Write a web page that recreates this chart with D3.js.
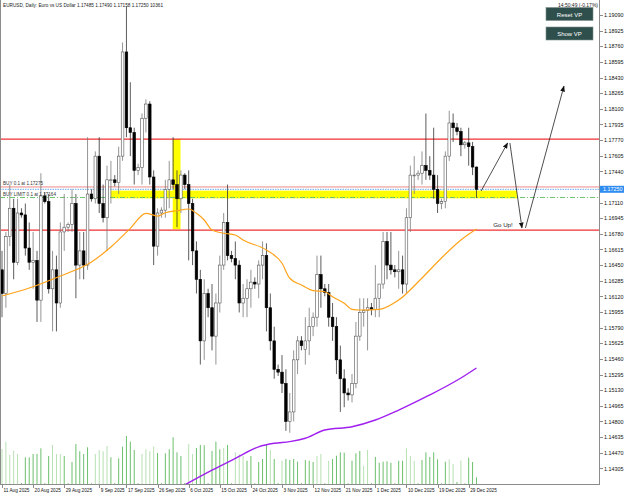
<!DOCTYPE html>
<html>
<head>
<meta charset="utf-8">
<script src="https://cdn.jsdelivr.net/npm/d3@7"></script>
<style>
  html, body { margin: 0; padding: 0; background: #fff; }
  svg { display: block; font-family: "Liberation Sans", Arial, sans-serif; }
  .axis text { font-size: 5.4px; fill: #111; }
  .axis path, .axis line { stroke: #8c8c8c; shape-rendering: crispEdges; }
</style>
</head>
<body>
<div id="chart"></div>
<script>
(function() {
    'use strict';

    // EURUSD daily, 11 Aug - 31 Dec 2025 (broker also prints a short Sunday bar)
    var dates = [
        '08-11','08-12','08-13','08-14','08-15','08-17',
        '08-18','08-19','08-20','08-21','08-22','08-24',
        '08-25','08-26','08-27','08-28','08-29','08-31',
        '09-01','09-02','09-03','09-04','09-05','09-07',
        '09-08','09-09','09-10','09-11','09-12','09-14',
        '09-15','09-16','09-17','09-18','09-19','09-21',
        '09-22','09-23','09-24','09-25','09-26','09-28',
        '09-29','09-30','10-01','10-02','10-03','10-05',
        '10-06','10-07','10-08','10-09','10-10','10-12',
        '10-13','10-14','10-15','10-16','10-17','10-19',
        '10-20','10-21','10-22','10-23','10-24','10-26',
        '10-27','10-28','10-29','10-30','10-31','11-02',
        '11-03','11-04','11-05','11-06','11-07','11-09',
        '11-10','11-11','11-12','11-13','11-14','11-16',
        '11-17','11-18','11-19','11-20','11-21','11-23',
        '11-24','11-25','11-26','11-27','11-28','11-30',
        '12-01','12-02','12-03','12-04','12-05','12-07',
        '12-08','12-09','12-10','12-11','12-12','12-14',
        '12-15','12-16','12-17','12-18','12-19','12-21',
        '12-22','12-23','12-24','12-25','12-26','12-28',
        '12-29','12-30','12-31'
    ];

    var opens = [
        1.1640, 1.1615, 1.1675, 1.1705, 1.1648, 1.1700,
        1.1698, 1.1663, 1.1648, 1.1650, 1.1608, 1.1718,
        1.1712, 1.1620, 1.1640, 1.1605, 1.1680, 1.1685,
        1.1688, 1.1710, 1.1645, 1.1660, 1.1645, 1.1720,
        1.1715, 1.1760, 1.1710, 1.1695, 1.1735, 1.1735,
        1.1732, 1.1760, 1.1870, 1.1790, 1.1785, 1.1745,
        1.1748, 1.1800, 1.1815, 1.1738, 1.1665, 1.1700,
        1.1703, 1.1725, 1.1735, 1.1730, 1.1715, 1.1740,
        1.1730, 1.1710, 1.1660, 1.1630, 1.1565, 1.1615,
        1.1600, 1.1570, 1.1605, 1.1645, 1.1690, 1.1655,
        1.1652, 1.1645, 1.1605, 1.1610, 1.1620, 1.1627,
        1.1625, 1.1645, 1.1655, 1.1600, 1.1565, 1.1535,
        1.1532, 1.1520, 1.1480, 1.1490, 1.1545, 1.1565,
        1.1556, 1.1565, 1.1580, 1.1590, 1.1635, 1.1620,
        1.1616, 1.1590, 1.1580, 1.1545, 1.1525, 1.1510,
        1.1508, 1.1520, 1.1570, 1.1595, 1.1597, 1.1600,
        1.1598, 1.1610, 1.1625, 1.1670, 1.1645, 1.1640,
        1.1638, 1.1640, 1.1625, 1.1695, 1.1740, 1.1740,
        1.1742, 1.1750, 1.1745, 1.1740, 1.1725, 1.1710,
        1.1712, 1.1760, 1.1795, 1.1790, 1.1786, 1.1772,
        1.1774, 1.1770, 1.17485
    ];
    var highs = [
        1.1660, 1.1680, 1.1730, 1.1715, 1.1715, 1.1705,
        1.1710, 1.1690, 1.1680, 1.1660, 1.1742, 1.1722,
        1.1720, 1.1660, 1.1655, 1.1690, 1.1720, 1.1690,
        1.1725, 1.1720, 1.1680, 1.1680, 1.1780, 1.1725,
        1.1765, 1.1780, 1.1730, 1.1750, 1.1755, 1.1740,
        1.1770, 1.1880, 1.1918, 1.1838, 1.1790, 1.1752,
        1.1805, 1.1820, 1.1818, 1.1745, 1.1705, 1.1706,
        1.1735, 1.1755, 1.1780, 1.1745, 1.1745, 1.1742,
        1.1745, 1.1715, 1.1670, 1.1640, 1.1630, 1.1620,
        1.1625, 1.1615, 1.1655, 1.1700, 1.1730, 1.1660,
        1.1670, 1.1650, 1.1625, 1.1630, 1.1640, 1.1632,
        1.1650, 1.1670, 1.1668, 1.1615, 1.1580, 1.1540,
        1.1550, 1.1535, 1.1510, 1.1555, 1.1570, 1.1570,
        1.1590, 1.1600, 1.1595, 1.1655, 1.1655, 1.1625,
        1.1625, 1.1605, 1.1590, 1.1560, 1.1535, 1.1515,
        1.1530, 1.1585, 1.1610, 1.1610, 1.1610, 1.1605,
        1.1645, 1.1625, 1.1680, 1.1680, 1.1680, 1.1645,
        1.1660, 1.1655, 1.1705, 1.1750, 1.1760, 1.1745,
        1.1765, 1.1805, 1.1760, 1.1790, 1.1740, 1.1715,
        1.1765, 1.1808, 1.1805, 1.1795, 1.1790, 1.1776,
        1.1790, 1.1775, 1.17490
    ];
    var lows = [
        1.1590, 1.1600, 1.1665, 1.1630, 1.1645, 1.1695,
        1.1655, 1.1640, 1.1620, 1.1585, 1.1585, 1.1710,
        1.1615, 1.1575, 1.1575, 1.1600, 1.1660, 1.1680,
        1.1680, 1.1610, 1.1630, 1.1630, 1.1640, 1.1712,
        1.1710, 1.1700, 1.1690, 1.1660, 1.1710, 1.1728,
        1.1720, 1.1755, 1.1780, 1.1760, 1.1730, 1.1740,
        1.1730, 1.1785, 1.1730, 1.1645, 1.1655, 1.1695,
        1.1695, 1.1705, 1.1725, 1.1685, 1.1700, 1.1725,
        1.1650, 1.1645, 1.1615, 1.1540, 1.1545, 1.1590,
        1.1555, 1.1540, 1.1595, 1.1640, 1.1650, 1.1648,
        1.1630, 1.1595, 1.1590, 1.1590, 1.1600, 1.1620,
        1.1610, 1.1630, 1.1575, 1.1555, 1.1525, 1.1528,
        1.1510, 1.1470, 1.1468, 1.1480, 1.1530, 1.1555,
        1.1540, 1.1550, 1.1570, 1.1580, 1.1600, 1.1612,
        1.1580, 1.1565, 1.1530, 1.1490, 1.1495, 1.1502,
        1.1500, 1.1515, 1.1565, 1.1580, 1.1555, 1.1592,
        1.1590, 1.1590, 1.1620, 1.1630, 1.1635, 1.1632,
        1.1620, 1.1615, 1.1615, 1.1680, 1.1720, 1.1735,
        1.1730, 1.1735, 1.1735, 1.1715, 1.1700, 1.1704,
        1.1705, 1.1755, 1.1775, 1.1782, 1.1760, 1.1768,
        1.1750, 1.1740, 1.17158
    ];
    var closes = [
        1.1615, 1.1675, 1.1705, 1.1648, 1.1700, 1.1698,
        1.1663, 1.1648, 1.1650, 1.1608, 1.1718, 1.1712,
        1.1620, 1.1640, 1.1605, 1.1680, 1.1685, 1.1688,
        1.1710, 1.1645, 1.1660, 1.1645, 1.1720, 1.1715,
        1.1760, 1.1710, 1.1695, 1.1735, 1.1735, 1.1732,
        1.1760, 1.1870, 1.1790, 1.1785, 1.1745, 1.1748,
        1.1800, 1.1815, 1.1738, 1.1665, 1.1700, 1.1703,
        1.1725, 1.1735, 1.1730, 1.1715, 1.1740, 1.1730,
        1.1710, 1.1660, 1.1630, 1.1565, 1.1615, 1.1600,
        1.1570, 1.1605, 1.1645, 1.1690, 1.1655, 1.1652,
        1.1645, 1.1605, 1.1610, 1.1620, 1.1627, 1.1625,
        1.1645, 1.1655, 1.1600, 1.1565, 1.1535, 1.1532,
        1.1520, 1.1480, 1.1490, 1.1545, 1.1565, 1.1560,
        1.1565, 1.1580, 1.1590, 1.1635, 1.1620, 1.1616,
        1.1590, 1.1580, 1.1545, 1.1525, 1.1510, 1.1508,
        1.1520, 1.1570, 1.1595, 1.1597, 1.1600, 1.1598,
        1.1610, 1.1625, 1.1670, 1.1645, 1.1640, 1.1638,
        1.1640, 1.1625, 1.1695, 1.1740, 1.1740, 1.1742,
        1.1750, 1.1745, 1.1740, 1.1725, 1.1710, 1.1712,
        1.1760, 1.1795, 1.1790, 1.1786, 1.1772, 1.1774,
        1.1770, 1.17485, 1.17250
    ];

    // tick volume, and which of the two greens the bar is painted in
    var volumes = [
        54300, 65600, 45000, 51600, 46500, 1500,
        41400, 41200, 46500, 46800, 55300, 1200,
        43400, 60500, 46500, 46300, 43400, 1300,
        34100, 62000, 50700, 46500, 56900, 1100,
        46500, 52700, 50700, 58900, 41400, 1400,
        39800, 57800, 74400, 65600, 52700, 1200,
        46500, 53800, 50700, 57800, 48100, 1300,
        47600, 53800, 72400, 49100, 43400, 1500,
        62000, 46500, 55800, 60500, 60000, 1400,
        51200, 65600, 53800, 55800, 60500, 1200,
        49100, 46500, 43400, 36100, 43400, 1100,
        34100, 38800, 62000, 52700, 38800, 1300,
        36100, 38800, 37200, 38800, 34600, 1200,
        37200, 36100, 34100, 43400, 46500, 1100,
        36100, 38800, 43900, 49100, 48500, 1000,
        36100, 47600, 51200, 28400, 52700, 1200,
        41900, 33000, 34600, 35200, 33000, 1100,
        36100, 36100, 55300, 43400, 36100, 1000,
        37200, 49100, 41900, 49100, 38300, 900,
        34600, 38300, 31000, 3100, 36100, 900,
        40800, 34100, 10361
    ];
    var volTone = (
        'lllllg' + 'gggggg' + 'glllgg' + 'gggggg' + 'llllgg' +
        'gggggg' + 'llllgg' + 'gggggg' + 'llgggg' + 'ggglgg' +
        'lllggg' + 'ggglgg' + 'lggggg' + 'gggllg' + 'lggggg' +
        'gggllg' + 'gggggg' + 'ggl' + 'llg' + 'gggggg' + 'gllglg' + 'ggg'
    ).split('');

    // moving averages (bar index -> price)
    var maFastIdx = [0, 7, 15, 23, 28, 33, 37, 40, 42, 45, 48, 50, 52, 54, 57, 60, 62,
                     68, 72, 74, 77, 80, 83, 85, 88, 90, 92, 97, 102, 108, 113, 118, 122];
    var maFastVal = [1.16124, 1.16208, 1.16335, 1.16483, 1.16641, 1.16838, 1.16997, 1.16968,
                     1.17003, 1.17024, 1.17042, 1.16997, 1.16926, 1.16820, 1.16786, 1.16768,
                     1.16715, 1.16609, 1.16469, 1.16311, 1.16240, 1.16180, 1.16169, 1.16116,
                     1.16047, 1.15983, 1.15976, 1.15983, 1.16081, 1.16314, 1.16525, 1.16715, 1.16831];
    var maSlowIdx = [47, 54, 60, 66, 70, 74, 78, 83, 90, 96, 102, 110, 118, 122];
    var maSlowVal = [1.14130, 1.14285, 1.14410, 1.14532, 1.14569, 1.14586, 1.14622, 1.14709,
                     1.14744, 1.14815, 1.14920, 1.15079, 1.15258, 1.15364];

    var priceTicks = ['1.19090','1.18925','1.18760','1.18595','1.18430','1.18265','1.18100',
        '1.17935','1.17770','1.17605','1.17440','1.17275','1.17110','1.16945','1.16780',
        '1.16615','1.16450','1.16285','1.16120','1.15955','1.15790','1.15625','1.15460',
        '1.15295','1.15130','1.14965','1.14800','1.14635','1.14470','1.14305'];
    var dateTicks = ['08-11','08-20','08-29','09-09','09-17','09-26','10-06','10-15',
        '10-24','11-03','11-12','11-21','12-01','12-10','12-19','12-29'];

    // chart objects
    var redLevels = [1.17780, 1.16820];
    var bidPrice = 1.17250;
    var buyPrice = 1.17275;
    var buyLimitPrice = 1.17164;
    var zoneH = { from: 28.0, to: 132.4, top: 1.17236, bottom: 1.17155 };
    var zoneV = { from: 43.9, to: 45.9, top: 1.17781, bottom: 1.16828 };
    var arrowFrom = [[123.2, 1.17232], [130.6, 1.17739], [134.6, 1.16842]];
    var arrowTo   = [[130.0, 1.17739], [133.7, 1.16842], [144.5, 1.18340]];
    var noteAt = [126.3, 1.16850];

    var W = 625, H = 494;
    var plotR = 599, plotB = 484;

    var year = '2025-';
    var parse = d3.timeParse('%Y-%m-%d');
    var fmt = d3.timeFormat('%-d %b %Y');

    var x = d3.scaleLinear().domain([0, 122]).range([2, 2 + 122 * 3.889]);
    var y = d3.scaleLinear().domain([1.14305, 1.19090]).range([468.3, 15]);
    var yVol = d3.scaleLinear().domain([0, 74400]).range([plotB, plotB - 48]);

    var svg = d3.select('#chart').append('svg')
        .attr('width', W).attr('height', H)
        .attr('viewBox', [0, 0, W, H].join(' '));

    var defs = svg.append('defs');
    defs.append('clipPath').attr('id', 'plot-clip')
        .append('rect').attr('x', 0).attr('y', 0).attr('width', plotR).attr('height', plotB);

    defs.append('marker')
        .attr('id', 'arrow-head')
        .attr('viewBox', '0 0 10 10')
        .attr('refX', 9).attr('refY', 5)
        .attr('markerWidth', 6).attr('markerHeight', 6)
        .attr('markerUnits', 'userSpaceOnUse')
        .attr('orient', 'auto')
        .append('path').attr('d', 'M0,1 L10,5 L0,9 Z').attr('fill', '#111');

    var g = svg.append('g').attr('clip-path', 'url(#plot-clip)');

    // yellow zones sit behind the bars
    [zoneH, zoneV].forEach(function(z) {
        g.append('rect')
            .attr('x', x(z.from))
            .attr('y', y(z.top))
            .attr('width', x(z.to) - x(z.from))
            .attr('height', y(z.bottom) - y(z.top))
            .attr('fill', '#ffff00');
    });

    // horizontal levels
    redLevels.forEach(function(p) {
        g.append('line').attr('x1', 0).attr('x2', plotR)
            .attr('y1', y(p)).attr('y2', y(p))
            .attr('stroke', '#f03030').attr('stroke-width', 1.3);
    });
    g.append('line').attr('x1', 0).attr('x2', plotR)
        .attr('y1', y(buyPrice)).attr('y2', y(buyPrice))
        .attr('stroke', '#f08a8a').attr('stroke-width', 1);
    g.append('line').attr('x1', 0).attr('x2', plotR)
        .attr('y1', y(bidPrice)).attr('y2', y(bidPrice))
        .attr('stroke', '#6aaef0').attr('stroke-width', 1)
        .attr('stroke-dasharray', '1.5,1');
    g.append('line').attr('x1', 0).attr('x2', plotR)
        .attr('y1', y(buyLimitPrice)).attr('y2', y(buyLimitPrice))
        .attr('stroke', '#6cc36c').attr('stroke-width', 1)
        .attr('stroke-dasharray', '5,2,1,2');

    var bars = dates.map(function(d, i) {
        return { i: i, o: opens[i], h: highs[i], l: lows[i], c: closes[i], v: volumes[i], tone: volTone[i] };
    });

    // volumes
    g.selectAll('.vol')
        .data(bars)
        .join('line')
        .attr('class', 'vol')
        .attr('x1', function(d) { return x(d.i); })
        .attr('x2', function(d) { return x(d.i); })
        .attr('y1', plotB)
        .attr('y2', function(d) { return yVol(d.v); })
        .attr('stroke', function(d) { return d.tone === 'g' ? '#6cbf6c' : '#b7e0b2'; })
        .attr('stroke-width', 1);

    // moving averages
    var line = d3.line()
        .x(function(d) { return x(d[0]); })
        .y(function(d) { return y(d[1]); })
        .curve(d3.curveMonotoneX);

    g.append('path')
        .attr('d', line(maSlowIdx.map(function(v, k) { return [v, maSlowVal[k]]; })))
        .attr('fill', 'none').attr('stroke', '#a020f0').attr('stroke-width', 1.4);

    // candles
    var bw = 2.6;
    var candle = g.selectAll('.bar').data(bars).join('g').attr('class', 'bar');
    candle.append('line')
        .attr('x1', function(d) { return x(d.i); })
        .attr('x2', function(d) { return x(d.i); })
        .attr('y1', function(d) { return y(d.h); })
        .attr('y2', function(d) { return y(d.l); })
        .attr('stroke', function(d) { return d.c >= d.o ? '#7a7a7a' : '#333'; })
        .attr('stroke-width', 0.8);
    candle.append('rect')
        .attr('x', function(d) { return x(d.i) - bw / 2; })
        .attr('y', function(d) { return y(Math.max(d.o, d.c)); })
        .attr('width', bw)
        .attr('height', function(d) { return Math.max(0.8, Math.abs(y(d.o) - y(d.c))); })
        .attr('fill', function(d) { return d.c >= d.o ? '#fff' : '#000'; })
        .attr('stroke', function(d) { return d.c >= d.o ? '#555' : '#000'; })
        .attr('stroke-width', 0.6);

    g.append('path')
        .attr('d', line(maFastIdx.map(function(v, k) { return [v, maFastVal[k]]; })))
        .attr('fill', 'none').attr('stroke', '#ffa31a').attr('stroke-width', 1.2);

    // hand drawn arrows
    arrowFrom.forEach(function(a, k) {
        var b = arrowTo[k];
        g.append('line')
            .attr('x1', x(a[0])).attr('y1', y(a[1]))
            .attr('x2', x(b[0])).attr('y2', y(b[1]))
            .attr('stroke', '#222').attr('stroke-width', 0.8)
            .attr('marker-end', 'url(#arrow-head)');
    });

    g.append('text')
        .attr('x', x(noteAt[0])).attr('y', y(noteAt[1]))
        .attr('font-size', 6.2).attr('fill', '#222')
        .text('Go Up!');

    // order labels on the left
    g.append('text').attr('x', 3).attr('y', y(buyPrice) - 1.5)
        .attr('font-size', 4.6).attr('fill', '#333')
        .text('BUY 0.1 at ' + d3.format('.5f')(buyPrice));
    g.append('text').attr('x', 3).attr('y', y(buyLimitPrice) - 1.5)
        .attr('font-size', 4.6).attr('fill', '#333')
        .text('BUY LIMIT 0.1 at ' + d3.format('.5f')(buyLimitPrice));

    // frame + axes
    svg.append('line').attr('x1', 0.5).attr('x2', 0.5).attr('y1', 0).attr('y2', plotB)
        .attr('stroke', '#8c8c8c');

    var yAxis = d3.axisRight(y)
        .tickValues(priceTicks.map(Number))
        .tickFormat(d3.format('.5f'))
        .tickSize(3).tickPadding(1.5);
    var ya = svg.append('g').attr('class', 'axis')
        .attr('transform', 'translate(' + (plotR + 0.5) + ',0)')
        .call(yAxis);
    ya.select('.domain').attr('d', 'M0,0V' + (plotB + 0.5));
    // the label under the live price tag is covered in the terminal
    ya.selectAll('.tick text')
        .filter(function(d) { return Math.abs(y(d) - y(bidPrice)) < 5; })
        .remove();

    var tickIdx = dateTicks.map(function(d) { return dates.indexOf(d); });
    var xAxis = d3.axisBottom(x)
        .tickValues(tickIdx)
        .tickFormat(function(i) { return fmt(parse(year + dates[i])); })
        .tickSize(3).tickPadding(1);
    var xa = svg.append('g').attr('class', 'axis')
        .attr('transform', 'translate(0,' + (plotB + 0.5) + ')')
        .call(xAxis);
    xa.select('.domain').attr('d', 'M0,0H' + (plotR + 0.5));
    xa.selectAll('text').attr('text-anchor', 'start').attr('dx', 1).style('font-size', '4.7px');

    // last price tag
    svg.append('rect')
        .attr('x', plotR + 1).attr('y', y(bidPrice) - 3.5)
        .attr('width', 24).attr('height', 7)
        .attr('fill', '#2f8cf0');
    svg.append('text')
        .attr('x', plotR + 4).attr('y', y(bidPrice) + 2)
        .attr('font-size', 5.4).attr('fill', '#fff')
        .text(d3.format('.5f')(bidPrice));

    // header
    var last = bars[bars.length - 1];
    svg.append('text').attr('x', 3).attr('y', 7)
        .attr('font-size', 4.7).attr('fill', '#222')
        .text('EURUSD, Daily:  Euro vs US Dollar  ' + [last.o, last.h, last.l, last.c].map(d3.format('.5f')).join(' ') + '  ' + last.v);

    svg.append('text').attr('x', 598).attr('y', 6.5)
        .attr('text-anchor', 'end')
        .attr('font-size', 5).attr('fill', '#222')
        .text('14:50:49 (-0.17%)');

    // panel buttons
    var buttons = ['Reset VP', 'Show VP'];
    buttons.forEach(function(label, k) {
        var top = 7.5 + k * 19.5;
        svg.append('rect')
            .attr('x', 546).attr('y', top)
            .attr('width', 47).attr('height', 13)
            .attr('fill', '#2f4f4c').attr('stroke', '#7d8f8c').attr('stroke-width', 0.6);
        svg.append('text')
            .attr('x', 569.5).attr('y', top + 9)
            .attr('text-anchor', 'middle')
            .attr('font-size', 6).attr('fill', '#fff')
            .text(label);
    });
})();
</script>
</body>
</html>
